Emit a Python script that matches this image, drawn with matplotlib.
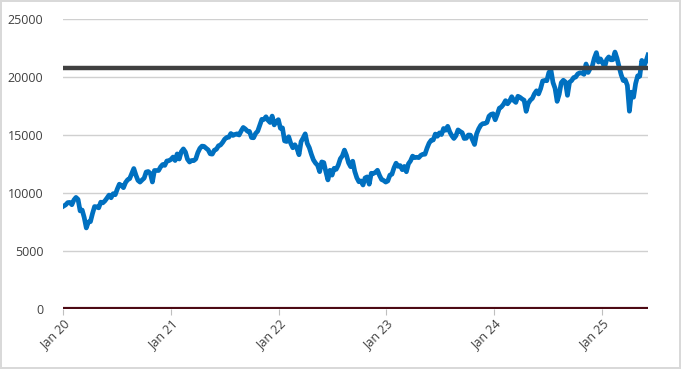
import numpy as np
import pandas as pd
import matplotlib
matplotlib.use("Agg")
import matplotlib.pyplot as plt
import matplotlib.dates as mdates

# weekly index level, Jan 2020 .. Jun 2025
idx_2020 = [8870, 8980, 9170, 9190, 8990, 9400, 9620, 9450, 8460, 8530, 7880, 6990, 7500,
            7530, 8230, 8830, 8810, 8720, 9210, 9150, 9320, 9560, 9820, 9590, 9940, 9850,
            10340, 10760, 10650, 10460, 10900, 11140, 11240, 11680, 12110, 11550, 11090, 10940,
            11120, 11280, 11810, 11850, 11690, 10950, 11940, 11940, 11940, 12260, 12460, 12380,
            12760, 12790, 12890]
idx_2021 = [13100, 12800, 13370, 12930, 13560, 13800, 13530, 12910, 12670, 12800, 12790, 12930,
            13480, 13850, 14040, 14020, 13860, 13720, 13380, 13350, 13690, 13770, 14070, 14140,
            14360, 14640, 14790, 14810, 15130, 14960, 15050, 15100, 15000, 15350, 15650, 15520,
            15330, 15310, 14780, 14760, 15140, 15330, 15850, 16350, 16340, 16570, 16270, 16080,
            16630, 15870, 16170, 16320]
idx_2022 = [15580, 15610, 14490, 14440, 14850, 14280, 13900, 14160, 13840, 13300, 14420, 14740,
            15100, 14270, 13900, 13330, 12850, 12580, 12390, 11840, 12680, 12620, 11830, 11130,
            11960, 11540, 12130, 12040, 12400, 12950, 13200, 13700, 13240, 12600, 12270, 12740,
            11860, 11310, 10970, 11040, 10690, 11300, 11390, 10760, 11700, 11680, 11780, 11960,
            11510, 11160, 11080, 10940]
idx_2023 = [11040, 11540, 11620, 12170, 12570, 12300, 12360, 12010, 12290, 11830, 12520, 12770,
            13180, 13050, 13080, 13050, 13250, 13340, 13340, 13870, 14300, 14550, 14570, 15080,
            14890, 15180, 15040, 15560, 15410, 15750, 15270, 14940, 14700, 14940, 15440, 15310,
            15200, 14700, 14720, 15000, 14990, 14580, 14180, 15100, 15530, 15840, 15980, 15990,
            16080, 16620, 16780, 16830]
idx_2024 = [16310, 16770, 17310, 17420, 17640, 17960, 17690, 17930, 18300, 17970, 17810, 18340,
            18250, 18110, 18000, 17040, 17720, 18000, 18160, 18550, 18810, 18540, 19000, 19660,
            19700, 19680, 20390, 20600, 19520, 19020, 17900, 18510, 19510, 19720, 19570, 18420,
            19550, 19690, 19950, 20000, 20270, 20360, 20350, 20230, 21120, 20390, 20740, 20930,
            21620, 22100, 21290, 21560]
idx_2025 = [21230, 20850, 21510, 21730, 21480, 21490, 22150, 21610, 20880, 20200, 19700, 19750,
            19280, 17050, 18690, 18260, 19430, 20100, 20060, 21430, 20920, 21340, 21900]
level = 20800

values = idx_2020 + idx_2021 + idx_2022 + idx_2023 + idx_2024 + idx_2025
dates = pd.date_range("2020-01-03", periods=len(values), freq="7D")

fig = plt.figure(figsize=(6.81, 3.69), dpi=100, linewidth=1.5, edgecolor="#d9d9d9")
ax = fig.add_axes([63 / 681, 60 / 369, 585 / 681, 290 / 369])

ax.plot(dates, values, color="#0070c0", lw=3.4, solid_joinstyle="round", zorder=3)
ax.plot([dates[0], dates[-1]], [level, level], color="#404040", lw=3.2, zorder=4)
ax.axhline(0, color="#4d0a14", lw=3, zorder=5)

ax.set_xlim(pd.Timestamp("2020-01-01"), dates[-1])
ax.set_ylim(0, 25000)
ax.set_yticks(np.arange(0, 25001, 5000))
ax.grid(axis="y", color="#d0d0d0", lw=1)
ax.set_axisbelow(True)

ax.xaxis.set_major_locator(mdates.YearLocator())
ax.xaxis.set_major_formatter(mdates.DateFormatter("%b %y"))

for s in ax.spines.values():
    s.set_visible(False)
ax.tick_params(axis="y", length=0, pad=14, labelsize=9, labelcolor="#404040")
ax.tick_params(axis="x", length=4, color="#bfbfbf", pad=2, labelsize=9, labelcolor="#404040")
for lbl in ax.get_xticklabels():
    lbl.set_rotation(45)
    lbl.set_ha("right")
    lbl.set_rotation_mode("anchor")
for lbl in ax.get_xticklabels() + ax.get_yticklabels():
    lbl.set_fontfamily("Open Sans")

fig.savefig("out.png", dpi=100)
